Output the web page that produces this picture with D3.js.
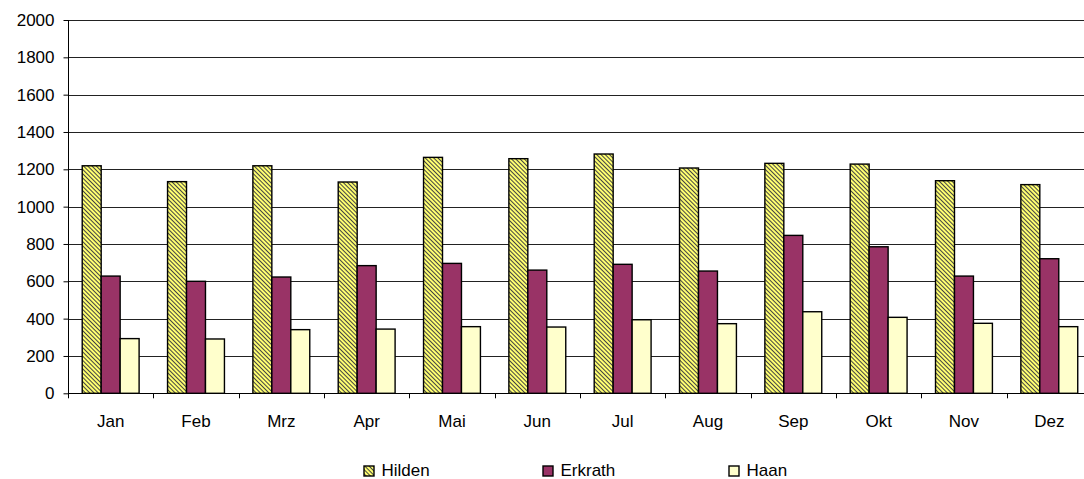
<!DOCTYPE html>
<html>
<head>
<meta charset="utf-8">
<script src="https://cdn.jsdelivr.net/npm/d3@7"></script>
<style>
  html, body { margin: 0; padding: 0; background: #fff; }
  svg { display: block; font-family: "Liberation Sans", Arial, sans-serif; }
</style>
</head>
<body>
<svg id="chart" width="1084" height="479"></svg>
<script>
// Monthly figures for three towns
const months = ["Jan", "Feb", "Mrz", "Apr", "Mai", "Jun", "Jul", "Aug", "Sep", "Okt", "Nov", "Dez"];
const seriesNames = ["Hilden", "Erkrath", "Haan"];
const hilden  = [1219, 1134, 1219, 1132, 1264, 1257, 1282, 1207, 1232, 1228, 1139, 1118];
const erkrath = [628, 600, 623, 684, 696, 660, 691, 655, 846, 785, 628, 721];
const haan    = [293, 291, 341, 344, 357, 355, 394, 373, 437, 407, 375, 357];
const yTicks  = [0, 200, 400, 600, 800, 1000, 1200, 1400, 1600, 1800, 2000];

const seriesValues = [hilden, erkrath, haan];
const fills = ["url(#hatch)", "#993366", "#FFFFCC"];
const fontSize = 17;

const svg = d3.select("#chart");

// Diagonal hatch used by the first series
const defs = svg.append("defs");
const pat = defs.append("pattern")
  .attr("id", "hatch")
  .attr("patternUnits", "userSpaceOnUse")
  .attr("width", 3).attr("height", 3)
  .attr("patternTransform", "rotate(-45)");
pat.append("rect").attr("width", 3).attr("height", 3).attr("fill", "#FFFF70");
pat.append("rect").attr("x", 0).attr("width", 1.0).attr("height", 3).attr("fill", "#444");

const plotLeft = 68, plotTop = 20, plotBottom = 393.3;
const bandW = 85.33;
const plotRight = plotLeft + bandW * months.length;

const x = d3.scaleBand().domain(months).range([plotLeft, plotRight]).paddingInner(0).paddingOuter(0);
const y = d3.scaleLinear().domain([0, 2000]).range([plotBottom, plotTop]);

// Bar group geometry: three bars with a gap of 1.5 bar widths between groups
const barW = x.bandwidth() / 4.5;
const xs = d3.scaleBand().domain(seriesNames).range([0, barW * 3]);

// Gridlines
svg.append("g")
  .selectAll("line")
  .data(yTicks.filter(d => d > 0))
  .join("line")
  .attr("x1", plotLeft).attr("x2", plotRight)
  .attr("y1", d => Math.round(y(d)) + 0.5).attr("y2", d => Math.round(y(d)) + 0.5)
  .attr("stroke", "#222").attr("stroke-width", 1);

// Bars
const groups = svg.append("g")
  .selectAll("g")
  .data(months)
  .join("g")
  .attr("transform", d => `translate(${x(d) + barW * 0.75},0)`);

groups.selectAll("rect")
  .data((m, i) => seriesNames.map((s, k) => ({ s, k, v: seriesValues[k][i] })))
  .join("rect")
  .attr("x", d => xs(d.s))
  .attr("width", barW)
  .attr("y", d => y(d.v))
  .attr("height", d => y(0) - y(d.v))
  .attr("fill", d => fills[d.k])
  .attr("stroke", "#000")
  .attr("stroke-width", 1.4);

// Y axis
const yAxis = d3.axisLeft(y).tickValues(yTicks).tickSize(5).tickPadding(9).tickFormat(d3.format("d"));
const gy = svg.append("g").attr("transform", `translate(${plotLeft + 0.5},0)`).call(yAxis);
gy.select(".domain").attr("stroke", "#000").attr("d", `M0,${plotTop}V${plotBottom}`);
gy.selectAll(".tick line").attr("stroke", "#000");
gy.selectAll(".tick text").attr("font-size", fontSize).attr("fill", "#000")
  .attr("font-family", "Liberation Sans, Arial, sans-serif");

// X axis
const xTickPos = d3.range(months.length + 1).map(i => plotLeft + i * bandW);
const gx = svg.append("g");
gx.append("line")
  .attr("x1", plotLeft).attr("x2", plotRight)
  .attr("y1", Math.round(plotBottom) + 0.5).attr("y2", Math.round(plotBottom) + 0.5)
  .attr("stroke", "#000");
gx.selectAll("line.tick")
  .data(xTickPos)
  .join("line")
  .attr("class", "tick")
  .attr("x1", d => Math.round(d) + 0.5).attr("x2", d => Math.round(d) + 0.5)
  .attr("y1", plotBottom).attr("y2", plotBottom + 5)
  .attr("stroke", "#000");
gx.selectAll("text")
  .data(months)
  .join("text")
  .attr("x", d => x(d) + x.bandwidth() / 2)
  .attr("y", 427)
  .attr("text-anchor", "middle")
  .attr("font-size", fontSize)
  .attr("fill", "#000")
  .text(d => d);

// Legend
const legendX = [364, 543, 729];
const legend = svg.append("g")
  .selectAll("g")
  .data(seriesNames)
  .join("g")
  .attr("transform", (d, i) => `translate(${legendX[i]},466)`);
legend.append("rect")
  .attr("width", 10).attr("height", 10)
  .attr("fill", (d, i) => fills[i])
  .attr("stroke", "#000").attr("stroke-width", 1.4);
legend.append("text")
  .attr("x", 17.5).attr("y", 10)
  .attr("font-size", fontSize)
  .attr("fill", "#000")
  .text(d => d);
</script>
</body>
</html>
